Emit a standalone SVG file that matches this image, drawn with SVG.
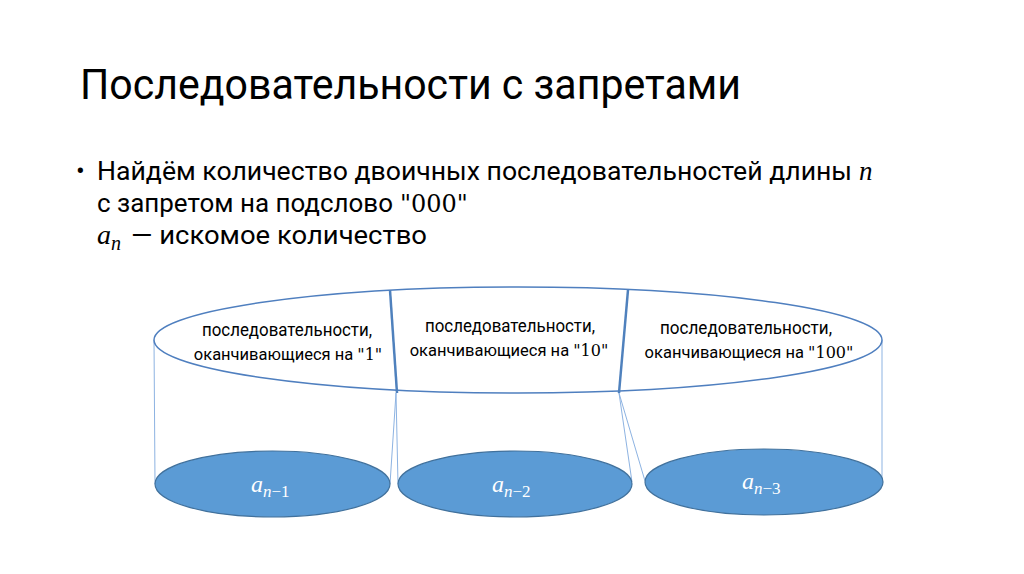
<svg xmlns="http://www.w3.org/2000/svg" width="1024" height="574" viewBox="0 0 1024 574">
<style>
.sans{font-family:Roboto,"Open Sans","Liberation Sans",sans-serif;fill:#000}
.ser{font-family:"DejaVu Serif","Liberation Serif",serif}
.it{font-family:"Liberation Serif","DejaVu Serif",serif;font-style:italic}
.big{fill:#fff;stroke:#4F7FBF;stroke-width:1.5}
.small{fill:#5B9BD5;stroke:#41719C;stroke-width:1.2}
.div{stroke:#4F81BD;stroke-width:2.5;fill:none}
.thin{stroke:#8DB3E2;stroke-width:1;fill:none}
.lbl{font-size:17.5px}
.l2{font-size:16.5px;text-anchor:middle}
.q{font-size:16px}
.mw{fill:#fff}
</style>
<rect width="1024" height="574" fill="#fff"/>
<g id="title">
<text class="sans" x="80" y="99" font-size="43" textLength="661" lengthAdjust="spacingAndGlyphs">Последовательности с запретами</text>
</g>
<g id="bullet">
<text class="sans" x="76" y="180" font-size="26">•</text>
<text class="sans" y="180" font-size="26"><tspan x="97" textLength="755" lengthAdjust="spacingAndGlyphs">Найдём количество двоичных последовательностей длины</tspan><tspan class="it" x="859" font-size="27">n</tspan></text>
<text class="sans" y="212" font-size="26"><tspan x="97" textLength="296" lengthAdjust="spacingAndGlyphs">с запретом на подслово</tspan><tspan class="ser" x="400" font-size="24">"000"</tspan></text>
<text class="sans" y="244" font-size="26"><tspan class="it" x="97" font-size="28">a</tspan><tspan class="it" x="111" dy="6" font-size="20">n</tspan><tspan x="131" dy="-6" textLength="296" lengthAdjust="spacingAndGlyphs">— искомое количество</tspan></text>
</g>
<g id="connectors">
<line class="thin" x1="154" y1="340" x2="155" y2="484"/>
<line class="thin" x1="396" y1="393" x2="390" y2="484"/>
<line class="thin" x1="396" y1="393" x2="398" y2="484"/>
<line class="thin" x1="619" y1="393" x2="632" y2="482"/>
<line class="thin" x1="619" y1="393" x2="645" y2="481"/>
<line class="thin" x1="882" y1="340" x2="882" y2="481"/>
</g>
<g id="top-ellipse">
<ellipse class="big" cx="518" cy="340" rx="364" ry="53"/>
</g>
<g id="dividers">
<line class="div" x1="390" y1="290" x2="397" y2="393"/>
<line class="div" x1="628" y1="290" x2="619" y2="393"/>
</g>
<g id="section-1">
<text class="sans lbl" x="202" y="336" textLength="170" lengthAdjust="spacingAndGlyphs">последовательности,</text>
<text class="sans l2" x="288" y="360">оканчивающиеся на <tspan class="ser q">"1"</tspan></text>
</g>
<g id="section-2">
<text class="sans lbl" x="425" y="332" textLength="170" lengthAdjust="spacingAndGlyphs">последовательности,</text>
<text class="sans l2" x="509" y="356">оканчивающиеся на <tspan class="ser q">"10"</tspan></text>
</g>
<g id="section-3">
<text class="sans lbl" x="660" y="334" textLength="172" lengthAdjust="spacingAndGlyphs">последовательности,</text>
<text class="sans l2" x="749" y="358">оканчивающиеся на <tspan class="ser q">"100"</tspan></text>
</g>
<g id="a-n-1">
<ellipse class="small" cx="272.5" cy="484" rx="117.5" ry="33"/>
<text class="it mw" y="492" font-size="24"><tspan x="251">a</tspan><tspan x="263" dy="5" font-size="17">n</tspan><tspan font-style="normal" font-size="17">−1</tspan></text>
</g>
<g id="a-n-2">
<ellipse class="small" cx="515" cy="484" rx="117" ry="33"/>
<text class="it mw" y="492" font-size="24"><tspan x="492">a</tspan><tspan x="504" dy="5" font-size="17">n</tspan><tspan font-style="normal" font-size="17">−2</tspan></text>
</g>
<g id="a-n-3">
<ellipse class="small" cx="764" cy="482" rx="119" ry="33"/>
<text class="it mw" y="489" font-size="24"><tspan x="742">a</tspan><tspan x="754" dy="5" font-size="17">n</tspan><tspan font-style="normal" font-size="17">−3</tspan></text>
</g>
</svg>
